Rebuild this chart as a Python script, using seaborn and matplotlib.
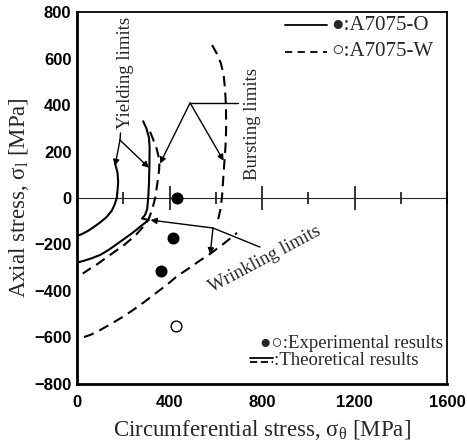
import matplotlib
matplotlib.use("Agg")
import matplotlib.pyplot as plt
from matplotlib.ticker import MultipleLocator
import seaborn as sns
import numpy as np

# ---- data ----
# A7075-O (solid): inner yield curve
o_yield_in_x = [164, 175, 178, 176, 172, 162, 150, 128, 100, 75, 50, 28, 10]
o_yield_in_y = [150, 110, 70, 40, 0, -30, -55, -82, -105, -123, -140, -152, -160]
# A7075-O (solid): outer yield curve joined with wrinkling limit
o_outer_x = [286, 300, 311, 314, 313, 311, 308, 303, 293, 281, 310, 290, 270, 240, 208, 170, 134, 100, 64, 30, 0]
o_outer_y = [330, 300, 260, 220, 133, 60, 0, -50, -75, -88, -95, -110, -126, -150, -173, -200, -225, -245, -259, -270, -278]
# A7075-W (dashed): yield curve joined with wrinkling limit
w_inner_x = [316, 330, 345, 357, 355, 350, 338, 325, 310, 290, 258, 230, 200, 150, 115, 80, 50, 25]
w_inner_y = [285, 250, 210, 160, 120, 80, 0, -50, -90, -120, -155, -180, -205, -240, -265, -290, -308, -325]
# A7075-W (dashed): large wrinkling limit
w_wrinkle_x = [30, 60, 100, 150, 200, 242, 290, 340, 390, 433, 480, 530, 576, 630, 692]
w_wrinkle_y = [-598, -588, -568, -540, -510, -482, -448, -410, -372, -336, -305, -270, -240, -200, -150]
# A7075-W (dashed): bursting limit
w_burst_x = [584, 605, 622, 634, 640, 644, 645, 642, 637, 632, 627, 620, 612, 604]
w_burst_y = [658, 620, 580, 530, 470, 400, 300, 220, 150, 80, 4, -50, -85, -110]
# experimental results
exp_o_x = [433, 415, 364]
exp_o_y = [0, -172, -312]
exp_w_x = [428]
exp_w_y = [-550]

x_ticks = [0, 400, 800, 1200, 1600]
y_ticks = [-800, -600, -400, -200, 0, 200, 400, 600, 800]

SERIF = ["Liberation Serif", "DejaVu Serif"]
SANS = ["Liberation Sans", "DejaVu Sans"]

sns.set_style("white")
plt.rcParams["font.family"] = SANS
plt.rcParams["mathtext.fontset"] = "custom"
plt.rcParams["mathtext.rm"] = "Liberation Serif"
plt.rcParams["mathtext.it"] = "Liberation Serif"
plt.rcParams["mathtext.bf"] = "Liberation Serif:bold"

fig = plt.figure(figsize=(4.67, 4.43), dpi=100)
ax = fig.add_axes([0.1649, 0.1332, 0.7923, 0.8397])

lw = 1.5
dash = (5, 3)

def curve(xs, ys, dashed=False):
    sns.lineplot(x=xs, y=ys, sort=False, estimator=None, ax=ax, color="black", linewidth=lw)
    if dashed:
        ax.lines[-1].set_dashes(dash)

curve(o_yield_in_x, o_yield_in_y)
curve(o_outer_x, o_outer_y)
curve(w_inner_x, w_inner_y, dashed=True)
curve(w_wrinkle_x, w_wrinkle_y, dashed=True)
curve(w_burst_x, w_burst_y, dashed=True)

sns.scatterplot(x=exp_o_x, y=exp_o_y, ax=ax, color="black", s=75, edgecolor="black", linewidth=0, zorder=5)
sns.scatterplot(x=exp_w_x, y=exp_w_y, ax=ax, facecolor="white", s=60, edgecolor="black", linewidth=1.0, zorder=5)

ax.set_xlim(0, 1600)
ax.set_ylim(-800, 800)
ax.set_xticks(x_ticks)
ax.set_yticks(y_ticks)
ax.xaxis.set_minor_locator(MultipleLocator(200))
ax.tick_params(axis="both", which="major", direction="in", length=9.5, width=1.3,
               labelsize=12, color="black", labelcolor="black")
ax.tick_params(axis="x", which="major", pad=8)
ax.tick_params(axis="y", which="major", pad=4)
ax.tick_params(axis="x", which="minor", direction="in", length=5, width=1.3)
for lab in ax.get_xticklabels() + ax.get_yticklabels():
    lab.set_fontfamily(SANS)
    lab.set_fontweight("bold")
# shorter ticks at the odd multiples of 200 on the y axis
for t, v in zip(ax.yaxis.get_major_ticks(), y_ticks):
    if v % 400 != 0:
        t.tick1line.set_markersize(5.5)

for side in ["left", "bottom"]:
    ax.spines[side].set_linewidth(2.0)
for side in ["top", "right"]:
    ax.spines[side].set_linewidth(1.3)
for s in ax.spines.values():
    s.set_color("black")

# zero line axis with crossing ticks
sec = ax.secondary_xaxis(0.5)
sec.set_xticks([400, 800, 1200])
sec.xaxis.set_minor_locator(MultipleLocator(200))
sec.tick_params(which="major", direction="inout", length=17, width=1.3, labelbottom=False, labeltop=False)
sec.tick_params(which="minor", direction="inout", length=9, width=1.3)
sec.spines["bottom"].set_linewidth(1.3)

ax.set_xlabel("Circumferential stress, σ$_\\theta$ [MPa]", fontsize=16.5, family=SERIF, labelpad=6)
ax.set_ylabel("Axial stress, σ$_\\mathrm{l}$ [MPa]", fontsize=16.5, family=SERIF, labelpad=2)

# annotations
arr = dict(arrowstyle="-|>", color="black", lw=1.0, mutation_scale=9, shrinkA=0, shrinkB=0)
ax.text(208, 538, "Yielding limits", rotation=90, fontsize=13.5, family=SERIF, ha="center", va="center")
ax.plot([186, 188], [249, 280], color="black", lw=1.0)
ax.annotate("", xy=(164, 138), xytext=(186, 249), arrowprops=arr)
ax.annotate("", xy=(311, 130), xytext=(186, 249), arrowprops=arr)

ax.text(758, 318, "Bursting limits", rotation=90, fontsize=13.5, family=SERIF, ha="center", va="center")
ax.plot([489, 697], [409, 409], color="black", lw=1.0)
ax.annotate("", xy=(359, 148), xytext=(489, 409), arrowprops=arr)
ax.annotate("", xy=(634, 160), xytext=(489, 409), arrowprops=arr)

ax.text(812, -262, "Wrinkling limits", rotation=28, fontsize=13.5, family=SERIF, ha="center", va="center",
        rotation_mode="anchor")
ax.plot([791, 588], [-211, -129], color="black", lw=1.0)
ax.annotate("", xy=(318, -95), xytext=(588, -129), arrowprops=arr)
ax.annotate("", xy=(576, -242), xytext=(588, -129), arrowprops=arr)

# legend-like keys (axes coordinates)
T = ax.transAxes
ax.plot([0.562, 0.676], [0.965, 0.965], transform=T, color="black", lw=1.3)
ax.text(0.688, 0.965, "●:A7075-O", transform=T, fontsize=15, family=SERIF + ["DejaVu Sans"], va="center", ha="left")
ax.plot([0.562, 0.676], [0.893, 0.893], transform=T, color="black", lw=1.3, dashes=(4, 3))
ax.text(0.688, 0.893, "○:A7075-W", transform=T, fontsize=15, family=SERIF + ["DejaVu Sans"], va="center", ha="left")

ax.text(0.989, 0.110, "●○:Experimental results", transform=T, fontsize=13.5, family=SERIF + ["DejaVu Sans"],
        va="center", ha="right")
ax.plot([0.468, 0.530], [0.071, 0.071], transform=T, color="black", lw=1.3)
ax.plot([0.468, 0.530], [0.058, 0.058], transform=T, color="black", lw=1.3, dashes=(4, 2))
ax.text(0.532, 0.064, ":Theoretical results", transform=T, fontsize=13.5, family=SERIF, va="center", ha="left")

fig.savefig("out.png", dpi=100)
